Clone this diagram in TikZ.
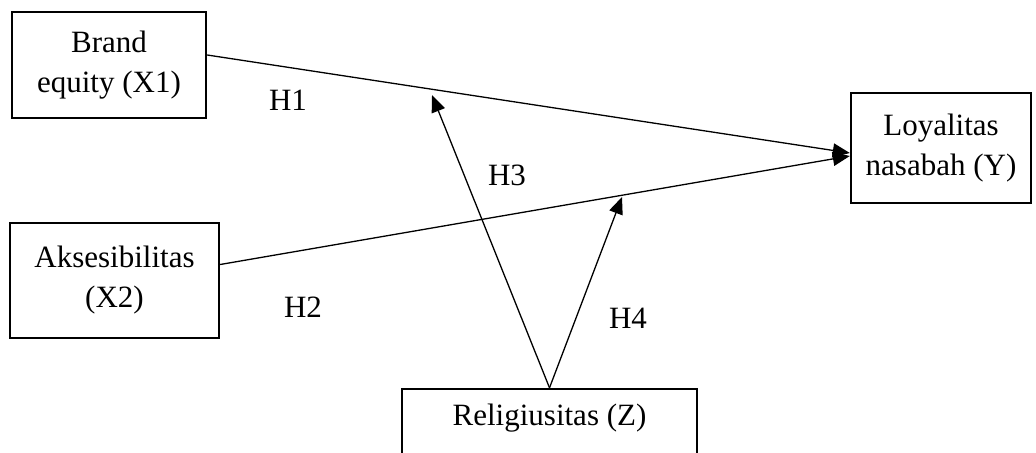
\documentclass[tikz,border=0pt]{standalone}
\usepackage{fontspec}
\setmainfont{Liberation Serif}
\usetikzlibrary{arrows.meta}

\begin{document}
\begin{tikzpicture}[
        x=0.5pt, y=-0.5pt,
        font=\fontsize{15.5}{20}\selectfont,
        var/.style={draw=black, line width=1.2pt, align=center, inner sep=0pt},
        hyp/.style={inner sep=0pt},
        link/.style={draw=black, line width=0.65pt, -{Triangle[length=8.5pt,width=7pt]}}
    ]
        \useasboundingbox (0,0) rectangle (1036,453);

        \node[var, minimum width=97pt, minimum height=53pt] (brand) at (109,65) {Brand\\equity (X1)};
        \node[var, minimum width=104.5pt, minimum height=57.5pt] (akses) at (114.5,280.5) {Aksesibilitas\\(X2)};
        \node[var, minimum width=90pt, minimum height=55pt] (loyal) at (941,148) {Loyalitas\\nasabah (Y)};
        \node[var, minimum width=147.5pt, anchor=base, text height=10pt, text depth=30pt, inner ysep=8pt] (relig) at (549.5,425) {Religiusitas (Z)};

        % ujung panah moderasi
        \coordinate (mod1) at (432,95);
        \coordinate (mod2) at (622,197);

        \draw[link] ([yshift=5pt]brand.east) -- ([yshift=-2.5pt]loyal.west);
        \draw[link] ([yshift=8pt]akses.east) -- ([yshift=-4pt]loyal.west);
        \draw[link] (relig.north) -- (mod1);
        \draw[link] (relig.north) -- (mod2);

        \node[hyp] (h1) at (288,100) {H1};
        \node[hyp] (h2) at (303,307) {H2};
        \node[hyp] (h3) at (507,175) {H3};
        \node[hyp] (h4) at (628,318) {H4};
    \end{tikzpicture}
\end{document}
